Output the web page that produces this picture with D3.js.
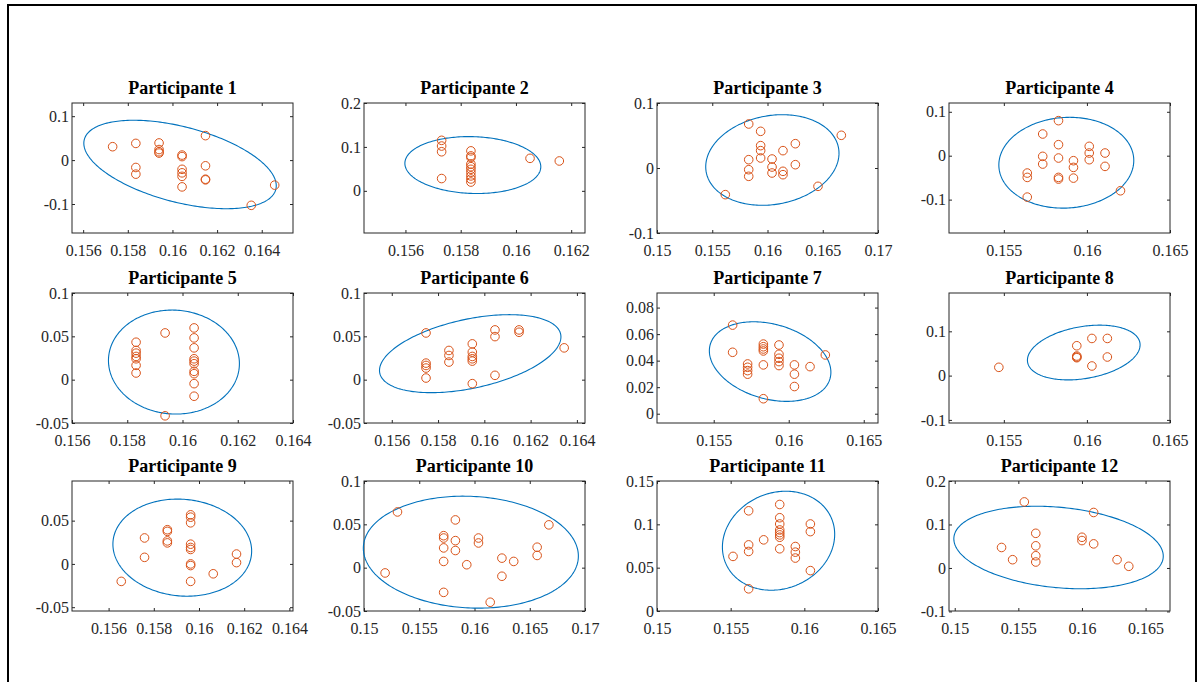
<!DOCTYPE html>
<html>
<head>
<meta charset="utf-8">
<script src="https://cdn.jsdelivr.net/npm/d3@7"></script>
<style>
  html, body { margin: 0; padding: 0; background: #fff; }
  svg { display: block; }
</style>
</head>
<body>
<script>
// Panel titles
const titles = ["Participante 1","Participante 2","Participante 3","Participante 4",
  "Participante 5","Participante 6","Participante 7","Participante 8",
  "Participante 9","Participante 10","Participante 11","Participante 12"];

// Measured x values of each participant
const participantX = [
  [0.15732,0.15836,0.15836,0.15836,0.1594,0.1594,0.1594,0.1594,0.16043,0.16043,0.16043,0.16043,0.16043,0.16043,0.16148,0.16148,0.16148,0.16148,0.16353,0.16458],
  [0.15731,0.15731,0.15731,0.15731,0.15837,0.15837,0.15837,0.15837,0.15837,0.15837,0.15837,0.15837,0.15837,0.15837,0.16051,0.16157],
  [0.1583,0.15938,0.15938,0.15938,0.15938,0.1583,0.1583,0.1583,0.16041,0.16041,0.16041,0.1614,0.1614,0.1614,0.16252,0.16252,0.16457,0.16668,0.15618],
  [0.15829,0.15734,0.15734,0.15734,0.15829,0.15829,0.15829,0.15829,0.15919,0.15919,0.15919,0.16014,0.16014,0.16014,0.16109,0.16109,0.15641,0.15641,0.15641,0.16202],
  [0.15832,0.15832,0.15832,0.15832,0.15832,0.15832,0.15832,0.15937,0.15937,0.16042,0.16042,0.16042,0.16042,0.16042,0.16042,0.16042,0.16042,0.16042,0.16042],
  [0.15748,0.15748,0.15748,0.15748,0.15748,0.15847,0.15847,0.15847,0.15948,0.15948,0.15948,0.15948,0.15948,0.15948,0.16046,0.16046,0.16046,0.1615,0.1615,0.16345],
  [0.15626,0.15626,0.15726,0.15726,0.15726,0.15726,0.15831,0.15831,0.15831,0.15831,0.15831,0.15831,0.15935,0.15935,0.15935,0.15935,0.15935,0.16038,0.16038,0.16038,0.16142,0.16244],
  [0.1547,0.15939,0.15939,0.15939,0.15939,0.1603,0.1603,0.16123,0.16123],
  [0.15656,0.15759,0.15759,0.1586,0.1586,0.1586,0.1586,0.15963,0.15963,0.15963,0.15963,0.15963,0.15963,0.15963,0.15963,0.15963,0.16063,0.16166,0.16166],
  [0.15303,0.15191,0.15721,0.15721,0.15721,0.15721,0.15721,0.15827,0.15827,0.15827,0.1593,0.16036,0.16036,0.16142,0.16248,0.16248,0.16355,0.16567,0.16567,0.16673],
  [0.15516,0.15622,0.15622,0.15622,0.15622,0.15724,0.15833,0.15833,0.15833,0.15833,0.15833,0.15833,0.15833,0.15833,0.15939,0.15939,0.15939,0.16041,0.16041,0.16041],
  [0.15368,0.15455,0.15547,0.15637,0.15637,0.15637,0.15637,0.16,0.16,0.16092,0.16092,0.16276,0.16368]
];

// Measured y values of each participant
const participantY = [
  [0.0305,0.038,-0.0168,-0.032,0.039,0.024,0.019,0.016,0.0114,0.008,-0.021,-0.029,-0.037,-0.061,0.0557,-0.013,-0.0435,-0.045,-0.103,-0.057],
  [0.115,0.102,0.089,0.028,0.091,0.0795,0.076,0.061,0.055,0.049,0.042,0.034,0.027,0.020,0.074,0.068],
  [0.0677,0.0564,0.0344,0.0267,0.0154,0.0128,-0.0026,-0.0128,0.0138,0.0015,-0.0077,0.0267,-0.0051,-0.0103,0.0374,0.0051,-0.0282,0.0503,-0.041],
  [0.0798,0.0494,-0.0015,-0.019,0.0251,-0.0053,-0.0494,-0.0532,-0.0114,-0.0266,-0.051,0.0213,0.0061,-0.0091,0.0061,-0.0243,-0.0395,-0.0494,-0.0943,-0.0798],
  [0.0432,0.0337,0.0306,0.0268,0.0241,0.0165,0.0077,0.0539,-0.0417,0.0597,0.0482,0.0367,0.0241,0.0214,0.0184,0.0096,0.0069,-0.0046,-0.0191],
  [0.0539,0.0191,0.0164,0.0134,0.0019,0.0337,0.0279,0.0203,0.0413,0.0318,0.0268,0.0241,0.0214,-0.0046,0.0574,0.0497,0.005,0.0574,0.0547,0.0367],
  [0.0668,0.0463,0.0375,0.035,0.0325,0.0298,0.0525,0.0505,0.0488,0.0473,0.0368,0.0113,0.0518,0.0448,0.0418,0.0393,0.0363,0.0368,0.0298,0.0205,0.0355,0.0443],
  [0.0187,0.0674,0.0442,0.0419,0.0404,0.0839,0.0217,0.0839,0.042],
  [-0.0202,0.03,0.0076,0.0395,0.0376,0.0266,0.0243,0.0567,0.054,0.0475,0.0228,0.019,0.0167,0,-0.0019,-0.0202,-0.0114,0.0114,0.0015],
  [0.0643,-0.0061,0.0369,0.0342,0.0228,0.0072,-0.0285,0.0551,0.0312,0.0198,0.0034,0.0342,0.0285,-0.0399,0.011,-0.0099,0.0072,0.0236,0.0141,0.0494],
  [0.063,0.1156,0.0763,0.0687,0.0256,0.0821,0.1229,0.1076,0.1004,0.0935,0.0905,0.0878,0.0851,0.0718,0.0744,0.0679,0.0611,0.1004,0.0916,0.0466],
  [0.0471,0.019,0.1519,0.0797,0.0509,0.0281,0.0137,0.0706,0.063,0.1276,0.0554,0.019,0.0038]
];

// Confidence ellipse of each participant: centre, half-extents and x-y coupling
const ellipseCx   = [0.16034,0.15844,0.16044,0.15876,0.15969,0.15939,0.15876,0.15981,0.15926,0.15967,0.15825,0.15816];
const ellipseRx   = [0.00431,0.00246,0.00603,0.00406,0.00237,0.00392,0.00405,0.00339,0.00307,0.00973,0.00381,0.00823];
const ellipseCy   = [-0.01,0.0587,0.0123,-0.016,0.0203,0.03,0.0393,0.0521,0.0188,0.0179,0.0811,0.0471];
const ellipseRy   = [0.1007,0.0648,0.0697,0.1034,0.06,0.045,0.03,0.0618,0.0561,0.0646,0.0571,0.0949];
const ellipseTilt = [-0.48,-0.06,0.15,0.05,-0.03,0.43,-0.27,0.28,-0.07,-0.07,0.13,-0.21];

// Axis limits
const xLimits = [[0.1555,0.1654],[0.1545,0.1625],[0.15,0.17],[0.1517,0.165],
  [0.156,0.164],[0.1548,0.16435],[0.15122,0.16595],[0.1517,0.165],
  [0.15438,0.16416],[0.15,0.17],[0.15,0.165],[0.14955,0.16692]];
const yLimits = [[-0.166,0.13],[-0.096,0.2],[-0.1,0.1],[-0.176,0.12],
  [-0.05,0.1],[-0.05,0.1],[-0.007,0.091],[-0.107,0.1865],
  [-0.0544,0.0958],[-0.05,0.1],[0,0.15],[-0.099,0.2]];

// Tick values
const xTicks = [
  [0.156,0.158,0.16,0.162,0.164],[0.156,0.158,0.16,0.162],[0.15,0.155,0.16,0.165,0.17],[0.155,0.16,0.165],
  [0.156,0.158,0.16,0.162,0.164],[0.156,0.158,0.16,0.162,0.164],[0.155,0.16,0.165],[0.155,0.16,0.165],
  [0.156,0.158,0.16,0.162,0.164],[0.15,0.155,0.16,0.165,0.17],[0.15,0.155,0.16,0.165],[0.15,0.155,0.16,0.165]
];
const yTicks = [
  [-0.1,0,0.1],[0,0.1,0.2],[-0.1,0,0.1],[-0.1,0,0.1],
  [-0.05,0,0.05,0.1],[-0.05,0,0.05,0.1],[0,0.02,0.04,0.06,0.08],[-0.1,0,0.1],
  [-0.05,0,0.05],[-0.05,0,0.05,0.1],[0,0.05,0.1,0.15],[-0.1,0,0.1,0.2]
];

const W = 1200, H = 682;
const colLeft = [72, 364, 657, 949];
const rowTop = [103, 293, 481];
const pw = 221, ph = 130;
const axisColor = "#262626";
const fmt = d => String(+d.toFixed(5));

const svg = d3.select("body").append("svg")
  .attr("width", W).attr("height", H)
  .attr("viewBox", `0 0 ${W} ${H}`);

svg.append("rect").attr("width", W).attr("height", H).attr("fill", "#fff");

// figure frame
svg.append("rect")
  .attr("x", 8).attr("y", 5).attr("width", 1188).attr("height", 700)
  .attr("fill", "none").attr("stroke", "#000").attr("stroke-width", 2);

titles.forEach((title, i) => {
  const left = colLeft[i % 4], top = rowTop[Math.floor(i / 4)];
  const x = d3.scaleLinear().domain(xLimits[i]).range([left, left + pw]);
  const y = d3.scaleLinear().domain(yLimits[i]).range([top + ph, top]);
  const g = svg.append("g");

  const styleAxis = sel => {
    sel.attr("font-family", "'Liberation Serif', 'Times New Roman', serif")
       .attr("font-size", 16);
    sel.select(".domain").remove();
    sel.selectAll(".tick line").attr("stroke", axisColor).attr("stroke-width", 1);
    sel.selectAll(".tick text").attr("fill", axisColor);
  };

  // axes with inward ticks on all four sides
  g.append("g").attr("transform", `translate(0,${top + ph})`)
    .call(d3.axisBottom(x).tickValues(xTicks[i]).tickFormat(fmt).tickSizeInner(-3).tickSizeOuter(0).tickPadding(12))
    .call(styleAxis);
  g.append("g").attr("transform", `translate(0,${top})`)
    .call(d3.axisTop(x).tickValues(xTicks[i]).tickFormat("").tickSizeInner(-3).tickSizeOuter(0))
    .call(styleAxis);
  g.append("g").attr("transform", `translate(${left},0)`)
    .call(d3.axisLeft(y).tickValues(yTicks[i]).tickFormat(fmt).tickSizeInner(-3).tickSizeOuter(0).tickPadding(3))
    .call(styleAxis);
  g.append("g").attr("transform", `translate(${left + pw},0)`)
    .call(d3.axisRight(y).tickValues(yTicks[i]).tickFormat("").tickSizeInner(-3).tickSizeOuter(0))
    .call(styleAxis);

  // box
  g.append("rect")
    .attr("x", left).attr("y", top).attr("width", pw).attr("height", ph)
    .attr("fill", "none").attr("stroke", axisColor).attr("stroke-width", 1);

  // title
  g.append("text")
    .attr("x", left + pw / 2).attr("y", top - 9)
    .attr("text-anchor", "middle")
    .attr("font-family", "'Liberation Serif', 'Times New Roman', serif")
    .attr("font-weight", "bold").attr("font-size", 18)
    .attr("fill", "#000")
    .text(title);

  // ellipse: x = cx + rx cos t, y = cy + ry cos(t + delta)
  const delta = Math.acos(ellipseTilt[i]);
  const ts = d3.range(0, 2 * Math.PI, Math.PI / 120);
  const line = d3.line()
    .x(t => x(ellipseCx[i] + ellipseRx[i] * Math.cos(t)))
    .y(t => y(ellipseCy[i] + ellipseRy[i] * Math.cos(t + delta)))
    .curve(d3.curveLinearClosed);
  g.append("path").attr("d", line(ts))
    .attr("fill", "none").attr("stroke", "#0072BD").attr("stroke-width", 1.1);

  // observations
  g.selectAll("circle.obs")
    .data(participantX[i].map((v, k) => [v, participantY[i][k]]))
    .join("circle")
    .attr("class", "obs")
    .attr("cx", d => x(d[0])).attr("cy", d => y(d[1]))
    .attr("r", 4.3)
    .attr("fill", "none").attr("stroke", "#D95319").attr("stroke-width", 1);
});
</script>
</body>
</html>
